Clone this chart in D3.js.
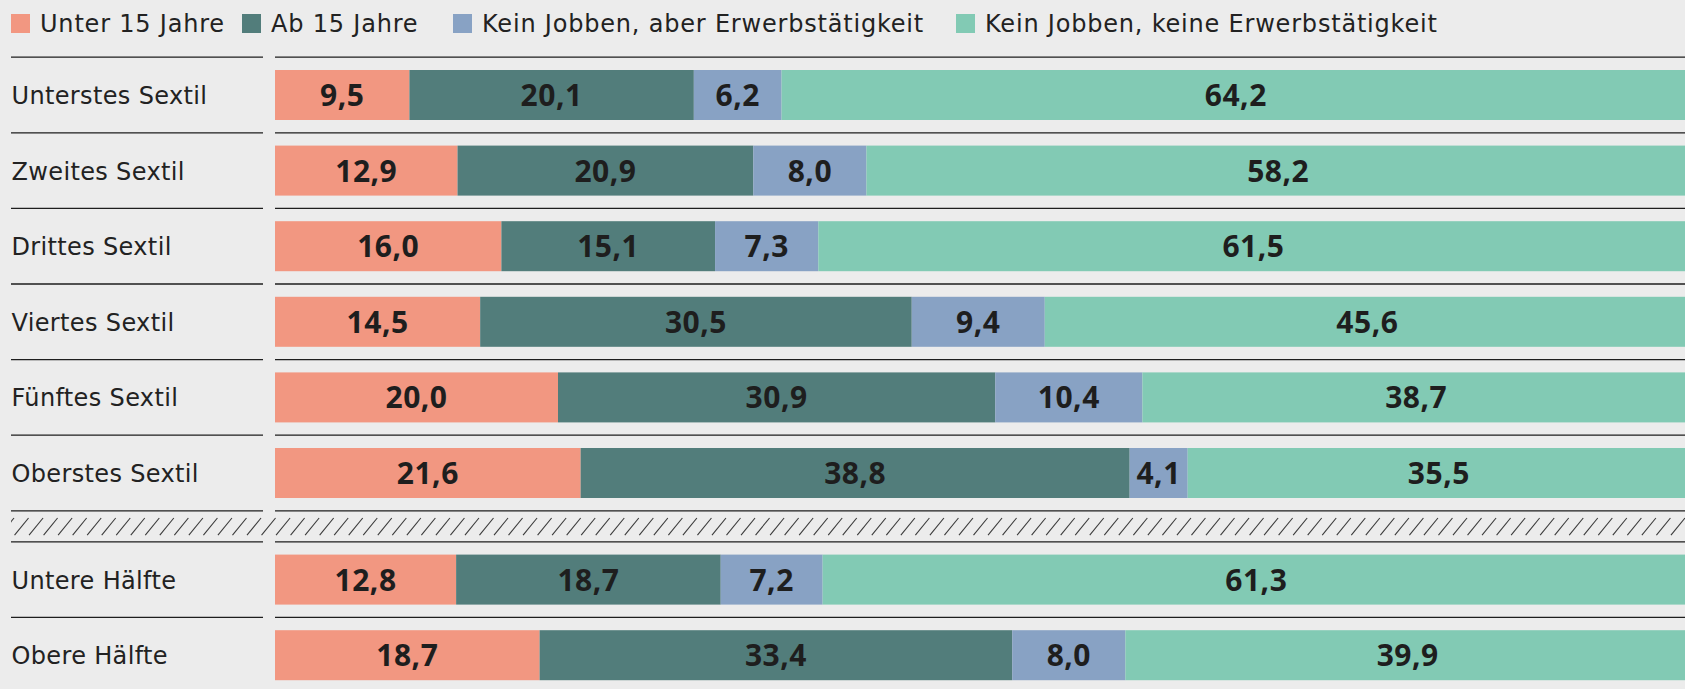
<!DOCTYPE html>
<html>
<head>
<meta charset="utf-8">
<script src="https://cdn.jsdelivr.net/npm/d3@7"></script>
<style>
  html, body { margin: 0; padding: 0; background: #ececec; }
  svg { display: block; }
  .rowlbl, .legtxt { font-family: "DejaVu Sans", sans-serif; font-size: 24px; fill: #222; }
  .rowlbl { letter-spacing: 0.35px; }
  .legtxt { letter-spacing: 0.8px; }
  .val { font-family: "Open Sans", sans-serif; font-size: 30px; font-weight: 700; fill: #1e1e1e; letter-spacing: 0.5px; }
</style>
</head>
<body>
<div class="chart"></div>
<script>
// categories and series
const groups = ["Unterstes Sextil", "Zweites Sextil", "Drittes Sextil", "Viertes Sextil",
                "Fünftes Sextil", "Oberstes Sextil", "Untere Hälfte", "Obere Hälfte"];
const seriesNames = ["Unter 15 Jahre", "Ab 15 Jahre", "Kein Jobben, aber Erwerbstätigkeit",
                     "Kein Jobben, keine Erwerbstätigkeit"];
const unter15 =   [9.5, 12.9, 16.0, 14.5, 20.0, 21.6, 12.8, 18.7];
const ab15 =      [20.1, 20.9, 15.1, 30.5, 30.9, 38.8, 18.7, 33.4];
const erwerb =    [6.2, 8.0, 7.3, 9.4, 10.4, 4.1, 7.2, 8.0];
const keineErw =  [64.2, 58.2, 61.5, 45.6, 38.7, 35.5, 61.3, 39.9];
const colors = ["#f29781", "#527d7b", "#88a2c4", "#82cab4"];

var width = 1685, height = 689;
var left = 275, pxPer = 14.15;   // bars run past the right edge, like in the original
var rowTop = 70, pitch = 75.6, barH = 50, gapExtra = 31;

const svg = d3.select(".chart").append("svg")
    .attr("width", width)
    .attr("height", height);

svg.append("rect").attr("width", width).attr("height", height).attr("fill", "#ececec");

const xScale = d3.scaleLinear()
    .domain([0, 100])
    .range([left, left + 100 * pxPer]);

// row positions: six sextiles, then a break, then the two halves
const yScale = d3.scaleLinear()
    .domain([0, 1])
    .range([rowTop, rowTop + pitch]);
function yRow(i) { return yScale(i) + (i >= 6 ? gapExtra : 0); }

const rows = groups.map((g, i) => {
    const vals = [unter15[i], ab15[i], erwerb[i], keineErw[i]];
    let acc = 0;
    const segs = vals.map((v, k) => {
        const s = { group: g, key: k, value: v, x0: acc, x1: acc + v };
        acc += v;
        return s;
    });
    return { group: g, i: i, segs: segs };
});

// legend
const legX = [11, 242, 453, 956];
const leg = svg.append("g").attr("class", "legend")
    .selectAll("g").data(seriesNames).join("g")
    .attr("transform", (d, k) => `translate(${legX[k]},14)`);
leg.append("rect").attr("width", 19).attr("height", 19).attr("fill", (d, k) => colors[k]);
leg.append("text").attr("class", "legtxt").attr("x", 29).attr("y", 18.3).text(d => d);

// separator lines
function sepLine(y) {
    svg.append("line").attr("x1", 11).attr("x2", 263).attr("y1", y).attr("y2", y)
        .attr("stroke", "#1e1e1e").attr("stroke-width", 1.3);
    svg.append("line").attr("x1", 275).attr("x2", width).attr("y1", y).attr("y2", y)
        .attr("stroke", "#1e1e1e").attr("stroke-width", 1.3);
}
rows.forEach(r => sepLine(yRow(r.i) - 12.8));
sepLine(yRow(5) + barH + 12.8);

// hatched break band
const hatchTop = yRow(5) + barH + 20, hatchBot = yRow(6) - 19.5;
svg.append("clipPath").attr("id", "hclip")
    .append("rect").attr("x", 11).attr("y", hatchTop - 1).attr("width", width - 11).attr("height", hatchBot - hatchTop + 2);
svg.append("g").attr("clip-path", "url(#hclip)")
    .selectAll("line").data(d3.range(0, width + 20, 14.53)).join("line")
    .attr("x1", d => d).attr("y1", hatchBot)
    .attr("x2", d => d + 14).attr("y2", hatchTop)
    .attr("stroke", "#3a3a3a").attr("stroke-width", 1.1);

// row labels
svg.append("g").selectAll("text").data(rows).join("text")
    .attr("class", "rowlbl")
    .attr("x", 11.5)
    .attr("y", d => yRow(d.i) + barH / 2 + 9)
    .text(d => d.group);

// bars
const rowG = svg.append("g").selectAll("g").data(rows).join("g")
    .attr("transform", d => `translate(0,${yRow(d.i)})`);

rowG.selectAll("rect").data(d => d.segs).join("rect")
    .attr("x", d => xScale(d.x0))
    .attr("width", d => xScale(d.x1) - xScale(d.x0))
    .attr("height", barH)
    .attr("fill", d => colors[d.key]);

rowG.selectAll("text").data(d => d.segs).join("text")
    .attr("class", "val")
    .attr("x", d => (xScale(d.x0) + xScale(d.x1)) / 2)
    .attr("y", barH / 2 + 11)
    .attr("text-anchor", "middle")
    .text(d => d.value.toFixed(1).replace(".", ","));
</script>
</body>
</html>
